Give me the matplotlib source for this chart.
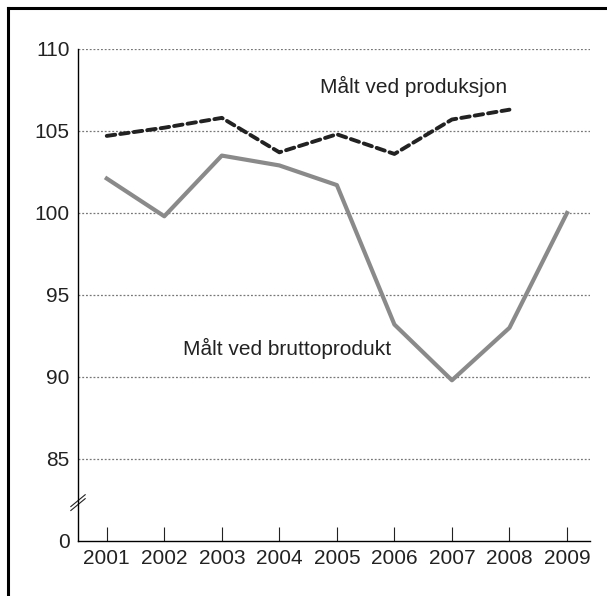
"""Index chart: Målt ved produksjon / Målt ved bruttoprodukt"""

import matplotlib.pyplot as plt
from matplotlib.lines import Line2D

years = [2001, 2002, 2003, 2004, 2005, 2006, 2007, 2008, 2009]
produksjon = [104.7, 105.2, 105.8, 103.7, 104.8, 103.6, 105.7, 106.3]
bruttoprodukt = [102.1, 99.8, 103.5, 102.9, 101.7, 93.2, 89.8, 93.0, 100.0]
ytick_pos = [80, 85, 90, 95, 100, 105, 110]
ytick_labels = ["0", "85", "90", "95", "100", "105", "110"]

plt.rcParams["font.family"] = ["Liberation Sans", "DejaVu Sans"]

fig = plt.figure(figsize=(6.07, 5.96), dpi=100)
ax = fig.add_axes([0.1285, 0.0923, 0.8435, 0.8255])

ax.plot(years[:len(produksjon)], produksjon, color="#222222", lw=2.8,
        linestyle=(0, (2.2, 1.3)), dash_capstyle="round", zorder=3)
ax.plot(years, bruttoprodukt, color="#8a8a8a", lw=3.0, zorder=3)

ax.set_xlim(2000.5, 2009.4)
ax.set_ylim(80, 110)
ax.set_xticks(years)
ax.set_yticks(ytick_pos)
ax.set_yticklabels(ytick_labels)

# dotted grid, not at the broken zero line
for v in ytick_pos[1:]:
    ax.axhline(v, color="#777777", lw=0.9, linestyle=(0, (1.5, 1.5)), zorder=1)

for side in ["top", "right"]:
    ax.spines[side].set_visible(False)
ax.spines["left"].set_linewidth(1.0)
ax.spines["bottom"].set_linewidth(1.0)

ax.tick_params(axis="x", direction="in", length=10, width=0.8,
               labelsize=15, pad=6, colors="#222222")
ax.tick_params(axis="y", length=0, labelsize=15, pad=6, colors="#222222")

# axis break marks
for y0 in (0.074, 0.082):
    ax.plot([-0.014, 0.014], [y0 - 0.012, y0 + 0.012],
            transform=ax.transAxes, color="#222222", lw=0.8, clip_on=False)

ax.text(2004.7, 107.32, "Målt ved produksjon", fontsize=15,
        color="#222222", va="baseline")
ax.text(2002.32, 91.34, "Målt ved bruttoprodukt", fontsize=15,
        color="#222222", va="baseline")

# outer frame (left and top edges)
fig.add_artist(Line2D([8 / 607, 8 / 607], [0, 1 - 8 / 596],
                      color="black", lw=2.2))
fig.add_artist(Line2D([8 / 607, 1], [1 - 8 / 596, 1 - 8 / 596],
                      color="black", lw=2.2))

fig.savefig("out.png", dpi=100)
